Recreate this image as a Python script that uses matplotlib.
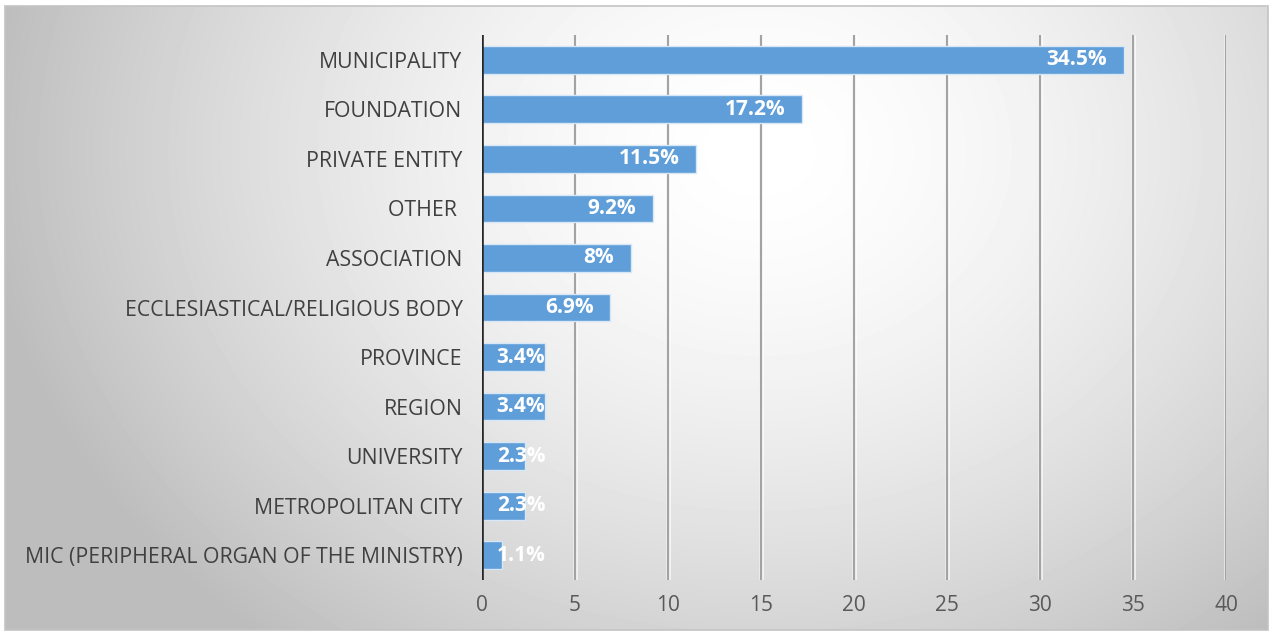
import numpy as np
import matplotlib
matplotlib.use("Agg")
import matplotlib.pyplot as plt
import matplotlib.patheffects as pe
from matplotlib.patches import Rectangle

# Ownership of the institutions, share in percent
categories = [
    "MUNICIPALITY",
    "FOUNDATION",
    "PRIVATE ENTITY",
    "OTHER ",
    "ASSOCIATION",
    "ECCLESIASTICAL/RELIGIOUS BODY",
    "PROVINCE",
    "REGION",
    "UNIVERSITY",
    "METROPOLITAN CITY",
    "MIC (PERIPHERAL ORGAN OF THE MINISTRY)",
]
values = [34.5, 17.2, 11.5, 9.2, 8.0, 6.9, 3.4, 3.4, 2.3, 2.3, 1.1]
value_labels = ["34.5%", "17.2%", "11.5%", "9.2%", "8%", "6.9%",
                "3.4%", "3.4%", "2.3%", "2.3%", "1.1%"]
xticks = [0, 5, 10, 15, 20, 25, 30, 35, 40]

plt.rcParams["font.family"] = ["Open Sans", "DejaVu Sans"]

W, H = 1274, 637
fig = plt.figure(figsize=(W / 100, H / 100), dpi=100)
fig.patch.set_facecolor("white")

# radial grey background of the chart area
bg = fig.add_axes([0, 0, 1, 1])
bg.set_xlim(0, W)
bg.set_ylim(H, 0)
bg.axis("off")
x0, x1, y0, y1 = 5, 1268, 6, 630
gx, gy = np.meshgrid(np.linspace(x0, x1, 400), np.linspace(y0, y1, 200))
r = np.sqrt(((gx - 760) / 760) ** 2 + ((gy - 150) / 620) ** 2)
shade = np.clip(1.0 - 0.25 * r ** 1.6, 0.74, 1.0)
bg.imshow(shade, cmap="gray", vmin=0, vmax=1, extent=(x0, x1, y1, y0),
          aspect="auto", interpolation="bilinear", zorder=0)
bg.add_patch(Rectangle((x0, y0), x1 - x0, y1 - y0, fill=False,
                       edgecolor="#c4c4c4", linewidth=1.2, zorder=1))

ax = fig.add_axes([482 / W, 1 - 580 / H, (1226 - 482) / W, (580 - 35) / H])
ax.patch.set_alpha(0)

y = np.arange(len(categories))
ax.barh(y, values, height=0.56, color="#5f9ed8", edgecolor="#d8e7f5",
        linewidth=1.0, zorder=3)

ax.set_xlim(0, 40)
ax.set_ylim(len(categories) - 0.5, -0.5)

for xv in xticks[1:]:
    ax.axvline(xv, color="#a3a3a3", linewidth=1.6, zorder=1,
               path_effects=[pe.withStroke(linewidth=3.5, foreground="white", alpha=0.7)])
ax.axvline(0, color="#262626", linewidth=2.6, zorder=4)

for s in ax.spines.values():
    s.set_visible(False)

ax.set_xticks(xticks)
ax.set_xticklabels([str(t) for t in xticks])
ax.set_yticks(y)
ax.set_yticklabels(categories)
ax.tick_params(axis="both", length=0, labelcolor="#404040")
ax.tick_params(axis="y", pad=14, labelsize=15.3)
ax.tick_params(axis="x", pad=11, labelsize=15, labelcolor="#595959")

# value labels, inside the bar end; short bars keep the label at the base
for yi, v, lab in zip(y, values, value_labels):
    xr = max(v - 0.9, 3.4)
    ax.text(xr, yi, lab, ha="right", va="center", color="white",
            fontsize=15, fontweight="bold", zorder=5)

fig.savefig("out.png", dpi=100)
